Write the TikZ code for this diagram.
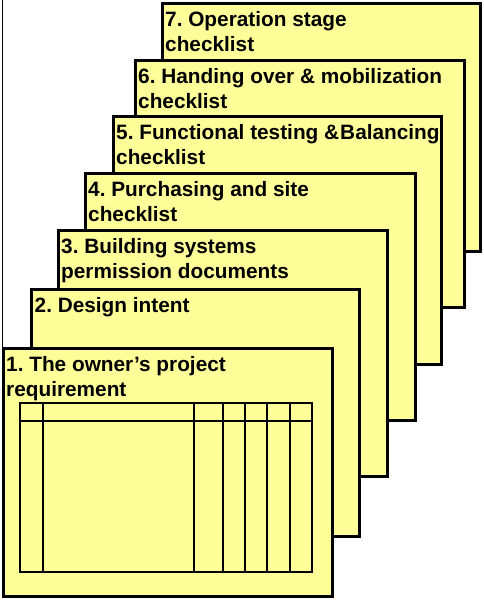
\documentclass[tikz,border=0pt]{standalone}
\usepackage{fontspec}
\setmainfont{Liberation Sans}
\frenchspacing
\definecolor{cardyellow}{RGB}{255,255,153}
\begin{document}
\begin{tikzpicture}[x=1pt,y=-1pt,
  card/.style={draw=black, line width=3.3pt, fill=cardyellow, rectangle, inner sep=0pt, anchor=north west},
  cardtext/.style={anchor=north west, inner sep=0pt, align=left, font=\fontsize{20.8}{25}\selectfont\bfseries},
  tabline/.style={line width=2pt},
  frameline/.style={line width=0.8pt}]
\useasboundingbox (0,0) rectangle (483,600);
\coordinate (ftop) at (2.2,0);
\coordinate (fbot) at (2.2,347);
\draw[frameline] (ftop) -- (fbot);
% cards, back to front
\node[card, minimum width=318pt, minimum height=248pt] (b7) at (160.5,1.5) {};
\node[cardtext] (t7) at (165,8.5) {\strut 7. Operation stage\\checklist};
\node[card, minimum width=329pt, minimum height=246.5pt] (b6) at (133.5,59) {};
\node[cardtext] (t6) at (138,66) {\strut 6. Handing over \& mobilization\\checklist};
\node[card, minimum width=328.5pt, minimum height=247.5pt] (b5) at (111.5,115) {};
\node[cardtext] (t5) at (116,122) {\strut 5. Functional testing \&\kern1pt Balancing\\checklist};
\node[card, minimum width=330pt, minimum height=247pt] (b4) at (83.5,171.5) {};
\node[cardtext] (t4) at (88,178.5) {\strut 4. Purchasing and site\\checklist};
\node[card, minimum width=329.5pt, minimum height=246.5pt] (b3) at (56.5,228.5) {};
\node[cardtext] (t3) at (61,235.5) {\strut 3. Building systems\\permission documents};
\node[card, minimum width=328pt, minimum height=247pt] (b2) at (30,287.5) {};
\node[cardtext] (t2) at (34.5,294.5) {\strut 2. Design intent};
\node[card, minimum width=329.3pt, minimum height=247.5pt] (b1) at (1.7,347) {};
\node[cardtext] (t1) at (6,354) {\strut 1. The owner’s project\\requirement};
% table in card 1
\draw[tabline] (20,402.7) rectangle (312.3,571.7);
\draw[tabline] (20,421.3) -- (312.3,421.3);
\foreach \cx in {42.7,194,222.7,245,267.3,290}
  \draw[tabline] (\cx,402.7) -- (\cx,571.7);
\end{tikzpicture}
\end{document}
